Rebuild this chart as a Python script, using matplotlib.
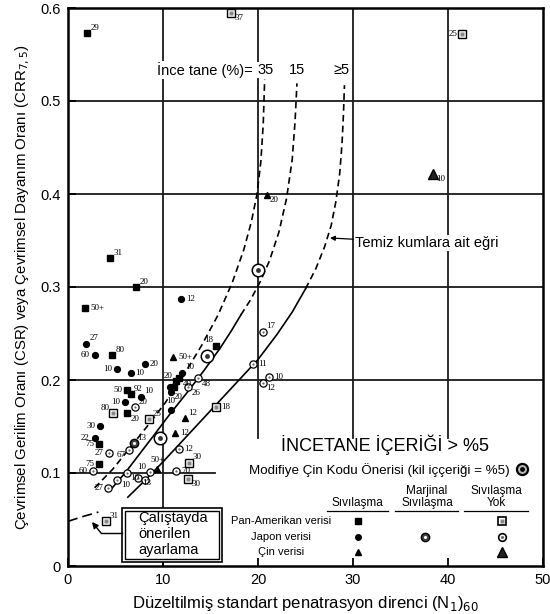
import matplotlib
matplotlib.use('Agg')
import matplotlib.pyplot as plt
from matplotlib.patches import Rectangle

plt.rcParams['font.family'] = ['Liberation Sans', 'DejaVu Sans']

# ---------------- data ----------------
pa_liq_x = [2.0, 4.4, 7.2, 1.8, 4.6, 15.6, 6.2, 6.6, 6.2, 3.3, 3.3, 11.2, 11.4, 11.7]
pa_liq_y = [0.573, 0.331, 0.300, 0.277, 0.227, 0.237, 0.189, 0.185, 0.164, 0.131, 0.110, 0.193, 0.199, 0.202]
pa_liq_lab = ["29", "31", "20", "50+", "80", "18", "50", "92", "20", "75", "75", "", "20", "40"]

pa_no_x = [17.2, 41.5, 4.7, 8.5, 15.6, 12.7, 12.6, 4.0]
pa_no_y = [0.595, 0.572, 0.164, 0.158, 0.171, 0.111, 0.094, 0.048]
pa_no_lab = ["37", "25", "80", "25", "18", "30", "30", "31"]

jp_liq_x = [11.9, 1.9, 2.8, 8.1, 5.2, 6.6, 6.0, 3.4, 2.8, 10.8, 10.7, 10.8, 12.0, 7.7]
jp_liq_y = [0.287, 0.239, 0.227, 0.217, 0.212, 0.207, 0.176, 0.151, 0.138, 0.168, 0.192, 0.187, 0.208, 0.182]
jp_liq_lab = ["12", "27", "60", "20", "10", "10", "10", "30", "22", "10", "", "20", "10", "10"]

jp_no_x = [20.5, 19.5, 21.2, 20.5, 7.1, 4.3, 2.6, 6.4, 6.2, 8.6, 11.4, 11.7, 4.2, 5.2, 7.4, 8.1, 12.6, 13.7]
jp_no_y = [0.252, 0.217, 0.203, 0.197, 0.171, 0.121, 0.102, 0.125, 0.100, 0.101, 0.102, 0.126, 0.084, 0.093, 0.095, 0.093, 0.192, 0.202]
jp_no_lab = ["17", "11", "10", "12", "20", "27", "60", "67", "10", "10", "70", "12", "27", "10", "13", "", "26", "48"]

jp_marg_x = [6.9]
jp_marg_y = [0.132]
jp_marg_lab = ["13"]

cn_liq_x = [20.9, 11.1, 12.3, 11.3, 9.4]
cn_liq_y = [0.399, 0.225, 0.159, 0.143, 0.104]
cn_liq_lab = ["20", "50+", "12", "12", "50+"]

cn_no_x = [38.4]
cn_no_y = [0.422]
cn_no_lab = ["10"]

mod_x = [20.0, 14.6, 9.7]
mod_y = [0.318, 0.226, 0.138]

# boundary curves
c35_x = [2.8, 4.7, 6.6, 8.4, 10.2, 12.1, 14.0, 15.8, 17.3, 18.5, 19.3, 19.9, 20.3, 20.55, 20.7]
c35_y = [0.084, 0.104, 0.128, 0.151, 0.175, 0.204, 0.236, 0.270, 0.305, 0.340, 0.370, 0.400, 0.435, 0.475, 0.523]

c15s_x = [4.4, 6.0, 7.5, 9.0, 10.7, 12.5, 14.3, 16.0, 17.2, 18.2]
c15s_y = [0.081, 0.100, 0.120, 0.140, 0.163, 0.186, 0.210, 0.234, 0.253, 0.270]
c15d_x = [18.2, 19.2, 20.2, 21.2, 22.2, 23.0, 23.6, 23.9, 24.1]
c15d_y = [0.270, 0.286, 0.305, 0.328, 0.359, 0.395, 0.437, 0.478, 0.519]

c5s_x = [6.3, 8.0, 10.0, 12.0, 14.0, 16.0, 18.0, 20.0, 22.0, 23.6, 25.0]
c5s_y = [0.074, 0.091, 0.112, 0.134, 0.156, 0.178, 0.200, 0.222, 0.249, 0.273, 0.298]
c5d_x = [25.0, 26.1, 27.0, 27.7, 28.2, 28.6, 28.85, 29.0, 29.1]
c5d_y = [0.298, 0.320, 0.343, 0.366, 0.392, 0.422, 0.455, 0.487, 0.517]

work_x = [0.0, 1.5, 3.2]
work_y = [0.048, 0.053, 0.058]

x_ticks = [0, 10, 20, 30, 40, 50]
y_ticks = [0, 0.1, 0.2, 0.3, 0.4, 0.5, 0.6]
y_ticklabels = ["0", "0.1", "0.2", "0.3", "0.4", "0.5", "0.6"]

# label placement (style)
pa_liq_pos = ['ur', 'ur', 'ur', 'r', 'ur', 'ul', 'l', 'ur', 'lr', 'l', 'l', 'r', 'ul', 'lr']
pa_no_pos = ['lr', 'l', 'ul', 'ur', 'r', 'ur', 'lr', 'ur']
jp_liq_pos = ['r', 'ur', 'l', 'r', 'l', 'r', 'l', 'l', 'l', 'u', 'r', 'lr', 'ur', 'ur']
jp_no_pos = ['ur', 'r', 'r', 'lr', 'ur', 'l', 'l', 'll', 'lr', 'ul', 'r', 'r', 'l', 'lr', 'lr', 'r', 'lr', 'lr']
jp_marg_pos = ['ur']
cn_liq_pos = ['lr', 'r', 'ur', 'r', 'u']
cn_no_pos = ['lr']

# ---------------- figure ----------------
W, H = 550, 614
fig = plt.figure(figsize=(W / 100, H / 100), dpi=100)
L, R, T, B = 68, 543, 8, 566
ax = fig.add_axes([L / W, 1 - B / H, (R - L) / W, (B - T) / H])
ax.set_xlim(0, 50)
ax.set_ylim(0, 0.6)


def px(p):
    return (p - L) / (R - L) * 50


def py(p):
    return (B - p) / (B - T) * 0.6


gc = '#1a1a1a'
glw = 1.3
for yv in [0.2, 0.3, 0.4, 0.5]:
    ax.plot([0, 50], [yv, yv], color=gc, lw=glw, zorder=1)
ax.plot([0, 15.5], [0.1, 0.1], color=gc, lw=glw, zorder=1)
ax.plot([10, 10], [0, 0.6], color=gc, lw=glw, zorder=1)
for xv in [20, 30, 40]:
    ax.plot([xv, xv], [0.138, 0.6], color=gc, lw=glw, zorder=1)

# curves
dash = (0, (4, 2.5))
ax.plot(c35_x, c35_y, color='k', lw=1.2, ls=dash, zorder=2)
ax.plot(c15s_x, c15s_y, color='k', lw=1.2, zorder=2)
ax.plot(c15d_x, c15d_y, color='k', lw=1.2, ls=dash, zorder=2)
ax.plot(c5s_x, c5s_y, color='k', lw=1.2, zorder=2)
ax.plot(c5d_x, c5d_y, color='k', lw=1.2, ls=dash, zorder=2)
ax.plot(work_x, work_y, color='k', lw=1.2, ls=(0, (6, 3)), zorder=2)

# markers
ms = 4.2
ax.plot(pa_liq_x, pa_liq_y, 's', ms=ms, color='k', zorder=4)
ax.plot(pa_no_x, pa_no_y, 's', ms=5.5, mfc='white', mec='k', mew=1.0, zorder=4)
ax.plot(pa_no_x, pa_no_y, 's', ms=2.2, mfc='#888', mec='none', zorder=5)
ax.plot(jp_liq_x, jp_liq_y, 'o', ms=ms, color='k', zorder=4)
ax.plot(jp_no_x, jp_no_y, 'o', ms=5.2, mfc='white', mec='k', mew=0.9, zorder=4)
ax.plot(jp_no_x, jp_no_y, 'o', ms=1.6, mfc='#666', mec='none', zorder=5)
ax.plot(jp_marg_x, jp_marg_y, 'o', ms=6, mfc='#444', mec='k', mew=1.0, zorder=4)
ax.plot(jp_marg_x, jp_marg_y, 'o', ms=2.2, mfc='white', mec='none', zorder=5)
ax.plot(cn_liq_x, cn_liq_y, '^', ms=ms + 0.5, color='k', zorder=4)
ax.plot(cn_no_x, cn_no_y, '^', ms=6.5, mfc='#222', mec='k', zorder=4)
ax.plot(mod_x, mod_y, 'o', ms=9, mfc='white', mec='k', mew=1.1, zorder=4)
ax.plot(mod_x, mod_y, 'o', ms=3.5, mfc='#333', mec='none', zorder=5)

offs = {'ur': (2.5, 1, 'left', 'bottom'), 'r': (3.5, 0, 'left', 'center'),
        'lr': (2.5, -1, 'left', 'top'), 'l': (-3.5, 0, 'right', 'center'),
        'ul': (-2.5, 1, 'right', 'bottom'), 'll': (-2.5, -1, 'right', 'top'),
        'u': (0, 3.5, 'center', 'bottom'), 'd': (0, -3.5, 'center', 'top')}


def labels(xs, ys, labs, pos):
    for xv, yv, lb, p in zip(xs, ys, labs, pos):
        if not lb:
            continue
        dx, dy, ha, va = offs[p]
        ax.annotate(lb, (xv, yv), xytext=(dx, dy), textcoords='offset points',
                    ha=ha, va=va, fontsize=6.5, family='Liberation Serif', zorder=6)


labels(pa_liq_x, pa_liq_y, pa_liq_lab, pa_liq_pos)
labels(pa_no_x, pa_no_y, pa_no_lab, pa_no_pos)
labels(jp_liq_x, jp_liq_y, jp_liq_lab, jp_liq_pos)
labels(jp_no_x, jp_no_y, jp_no_lab, jp_no_pos)
labels(jp_marg_x, jp_marg_y, jp_marg_lab, jp_marg_pos)
labels(cn_liq_x, cn_liq_y, cn_liq_lab, cn_liq_pos)
labels(cn_no_x, cn_no_y, cn_no_lab, cn_no_pos)

# curve labels
wb = dict(facecolor='white', edgecolor='none', pad=1.0)
ax.text(px(157), py(70), 'İnce tane (%)=', fontsize=10.5, ha='left', va='center', bbox=wb, zorder=3)
ax.text(px(266), py(70), '35', fontsize=10.5, ha='center', va='center', bbox=wb, zorder=3)
ax.text(px(297), py(70), '15', fontsize=10.5, ha='center', va='center', bbox=wb, zorder=3)
ax.text(px(342), py(70), '≥5', fontsize=10.5, ha='center', va='center', bbox=wb, zorder=3)

ax.annotate('Temiz kumlara ait eğri', xy=(px(330), py(238)), xytext=(px(355), py(243)),
            fontsize=10.5, ha='left', va='center', bbox=wb, zorder=3,
            arrowprops=dict(arrowstyle='-|>', color='k', lw=0.9, mutation_scale=7,
                            shrinkA=0, shrinkB=0))

# workshop box
bx0, bx1, by0, by1 = px(122), px(222), py(562), py(508)
ax.add_patch(Rectangle((bx0, by0), bx1 - bx0, by1 - by0, facecolor='white', edgecolor='k', lw=1.2, zorder=7))
ix0, ix1, iy0, iy1 = px(125), px(219), py(559), py(511)
ax.add_patch(Rectangle((ix0, iy0), ix1 - ix0, iy1 - iy0, facecolor='white', edgecolor='k', lw=1.0, zorder=7))
ax.text(px(138), py(534), 'Çalıştayda\nönerilen\nayarlama', fontsize=10.5, ha='left', va='center',
        linespacing=1.15, zorder=8)
ax.plot([px(122), px(101)], [py(533), py(533)], color='k', lw=1.0, zorder=7)
ax.annotate('', xy=(px(92), py(522)), xytext=(px(101), py(533)),
            arrowprops=dict(arrowstyle='-|>', color='k', lw=1.0, mutation_scale=9,
                            shrinkA=0, shrinkB=0), zorder=7)

# legend block
ax.text(px(385), py(445), 'İNCETANE İÇERİĞİ > %5', fontsize=13, ha='center', va='center', zorder=6)
ax.text(px(379), py(470), 'Modifiye Çin Kodu Önerisi (kil iççeriği = %5)', fontsize=9.6,
        ha='center', va='center', zorder=6)
ax.plot([px(522)], [py(469)], 'o', ms=8, mfc='#bbb', mec='k', mew=1.6, zorder=6)
ax.plot([px(522)], [py(469)], 'o', ms=3.5, mfc='k', mec='none', zorder=7)

ax.text(px(357), py(503), 'Sıvılaşma', fontsize=8.5, ha='center', va='center')
ax.text(px(427), py(497), 'Marjinal\nSıvılaşma', fontsize=8.5, ha='center', va='center', linespacing=1.05)
ax.text(px(496), py(497), 'Sıvılaşma\nYok', fontsize=8.5, ha='center', va='center', linespacing=1.05)
for a, b in [(327, 388), (395, 458), (464, 528)]:
    ax.plot([px(a), px(b)], [py(511), py(511)], color='k', lw=0.9)
for lbl, yy in [('Pan-Amerikan verisi', 521), ('Japon verisi', 537), ('Çin verisi', 552)]:
    ax.text(px(281), py(yy), lbl, fontsize=8, ha='center', va='center')
ax.plot([px(358)], [py(521)], 's', ms=4, color='k')
ax.plot([px(358)], [py(537)], 'o', ms=4, color='k')
ax.plot([px(358)], [py(552)], '^', ms=4.5, color='k')
ax.plot([px(425)], [py(537)], 'o', ms=6, mfc='#444', mec='k')
ax.plot([px(425)], [py(537)], 'o', ms=2.2, mfc='white', mec='none')
ax.plot([px(502)], [py(521)], 's', ms=5.5, mfc='white', mec='k', mew=1.2)
ax.plot([px(502)], [py(521)], 's', ms=2.2, mfc='#888', mec='none')
ax.plot([px(502)], [py(537)], 'o', ms=5.5, mfc='white', mec='k', mew=1.2)
ax.plot([px(502)], [py(537)], 'o', ms=2.2, mfc='#666', mec='none')
ax.plot([px(502)], [py(552)], '^', ms=7, mfc='#222', mec='k')

# axes styling
for s in ax.spines.values():
    s.set_linewidth(1.8)
ax.set_xticks(x_ticks)
ax.set_yticks(y_ticks)
ax.set_yticklabels(y_ticklabels)
ax.tick_params(direction='in', length=6, width=1.3, labelsize=10.5, pad=5)
ax.set_xlabel('Düzeltilmiş standart penatrasyon direnci (N$_1$)$_{60}$', fontsize=12, labelpad=5)
ax.set_ylabel('Çevrimsel Gerilim Oranı (CSR) veya Çevrimsel Dayanım Oranı (CRR$_{7,5}$)',
              fontsize=10.8, labelpad=6)

fig.savefig('out.png', dpi=100)
